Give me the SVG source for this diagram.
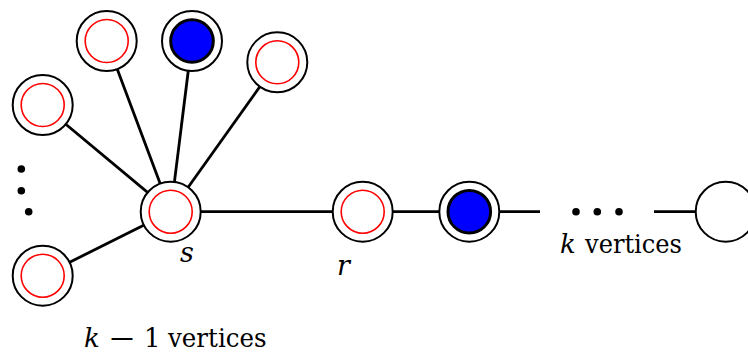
<svg xmlns="http://www.w3.org/2000/svg" width="748" height="352" viewBox="0 0 748 352">
<style>
.edge{stroke:#000;stroke-width:2.8;fill:none}
.outer{fill:#fff;stroke:#000;stroke-width:2}
.red{fill:none;stroke:#ff0000;stroke-width:1.6}
.blue{fill:#0000ff;stroke:#000;stroke-width:3}
.dot{fill:#000}
</style>
<rect width="748" height="352" fill="#fff"/>
<g id="connectors">
<line class="edge" x1="42.7" y1="105" x2="170.7" y2="211.7"/>
<line class="edge" x1="106.7" y1="41" x2="170.7" y2="211.7"/>
<line class="edge" x1="192" y1="41" x2="170.7" y2="211.7"/>
<line class="edge" x1="277.3" y1="62.3" x2="170.7" y2="211.7"/>
<line class="edge" x1="42.7" y1="275.7" x2="170.7" y2="211.7"/>
<line class="edge" x1="170.7" y1="211.7" x2="362.7" y2="211.7"/>
<line class="edge" x1="362.7" y1="211.7" x2="469.3" y2="211.7"/>
<line class="edge" x1="469.3" y1="211.7" x2="540" y2="211.7"/>
<line class="edge" x1="654" y1="211.7" x2="725.7" y2="211.7"/>
</g>
<g id="nodeA"><circle class="outer" cx="42.7" cy="105" r="30"/><circle class="red" cx="42.7" cy="105" r="21.5"/></g>
<g id="nodeB"><circle class="outer" cx="106.7" cy="41" r="30"/><circle class="red" cx="106.7" cy="41" r="21.5"/></g>
<g id="nodeC"><circle class="outer" cx="192" cy="41" r="30"/><circle class="blue" cx="192" cy="41" r="21.3"/></g>
<g id="nodeD"><circle class="outer" cx="277.3" cy="62.3" r="30"/><circle class="red" cx="277.3" cy="62.3" r="21.5"/></g>
<g id="nodeE"><circle class="outer" cx="42.7" cy="275.7" r="30"/><circle class="red" cx="42.7" cy="275.7" r="21.5"/></g>
<g id="nodeS"><circle class="outer" cx="170.7" cy="211.7" r="30"/><circle class="red" cx="170.7" cy="211.7" r="21.5"/>
<text x="180" y="261.7" font-family="DejaVu Serif, serif" font-size="27" font-style="italic" fill="#000">s</text></g>
<g id="nodeR"><circle class="outer" cx="362.7" cy="211.7" r="30"/><circle class="red" cx="362.7" cy="211.7" r="21.5"/>
<text x="337" y="275" font-family="DejaVu Serif, serif" font-size="27" font-style="italic" fill="#000">r</text></g>
<g id="nodeBlue2"><circle class="outer" cx="469.3" cy="211.7" r="30"/><circle class="blue" cx="469.3" cy="211.7" r="21.3"/></g>
<g id="nodeLast"><circle class="outer" cx="725.7" cy="211.7" r="30"/></g>
<g id="dots-left">
<circle class="dot" cx="21.3" cy="169" r="3.8"/>
<circle class="dot" cx="21.3" cy="190.7" r="3.8"/>
<circle class="dot" cx="28.7" cy="211.7" r="3.8"/>
</g>
<g id="dots-right">
<circle class="dot" cx="576" cy="211.7" r="3.8"/>
<circle class="dot" cx="597.3" cy="211.7" r="3.8"/>
<circle class="dot" cx="619" cy="211.7" r="3.8"/>
</g>
<g id="label-k-vertices">
<text y="253.3" font-family="DejaVu Serif, serif" font-size="26" fill="#000"><tspan font-style="italic" x="560">k</tspan><tspan x="585" textLength="97" lengthAdjust="spacingAndGlyphs">vertices</tspan></text>
</g>
<g id="label-k1-vertices">
<text y="346.7" font-family="DejaVu Serif, serif" font-size="26" fill="#000"><tspan font-style="italic" x="84">k</tspan><tspan x="108" textLength="28" lengthAdjust="spacingAndGlyphs">−</tspan><tspan x="144">1</tspan><tspan x="168" textLength="98.5" lengthAdjust="spacingAndGlyphs">vertices</tspan></text>
</g>
</svg>
